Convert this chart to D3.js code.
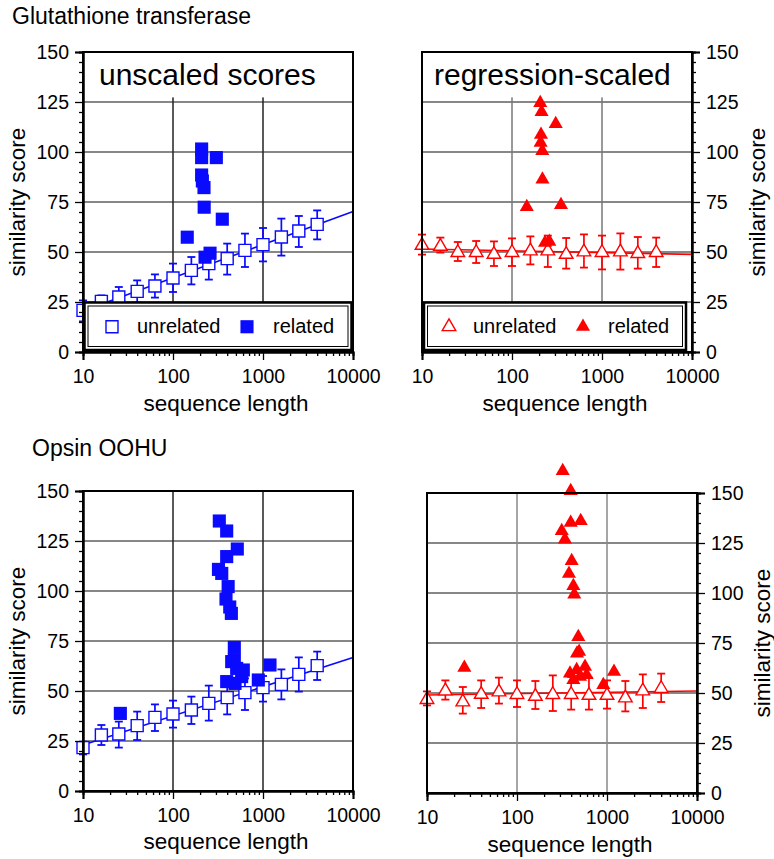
<!DOCTYPE html>
<html>
<head>
<meta charset="utf-8">
<script src="https://cdn.jsdelivr.net/npm/d3@7"></script>
<style>
  body { margin: 0; background: #fff; }
  svg { display: block; font-family: "Liberation Sans", Arial, sans-serif; }
</style>
</head>
<body>
<svg id="chart" width="774" height="859"></svg>
<script>
// x of the unrelated (binned) series, shared by all four panels
var lengthBins = [10, 16, 25, 40, 63, 100, 160, 250, 400, 630, 1000, 1600, 2500, 4000];
var fitEnds = [10, 10000];

// Glutathione transferase - unscaled
var gstRawMean = [20.8, 25.3, 27.5, 30.3, 33, 37, 40.8, 44.2, 46.7, 50.8, 53.7, 57.5, 60.5, 63.8];
var gstRawLow  = [15.3, 22.5, 23, 24.7, 27.2, 30, 33.8, 36.2, 38.7, 42.5, 45.3, 48.2, 52.5, 56.3];
var gstRawHigh = [25.8, 28.3, 32.5, 35.8, 38.8, 44.2, 47.5, 52, 54.2, 59.2, 62, 66.7, 68, 70.8];
var gstRawFit  = [20.5, 70.3];
var gstRawRelLen   = [208, 208, 303, 208, 212, 221, 222, 353, 144, 258, 227];
var gstRawRelScore = [101.5, 97.2, 97.2, 88.5, 85.5, 82.2, 72.4, 66.4, 57.4, 49.4, 47.4];

// Glutathione transferase - regression-scaled
var gstRegMean = [53.3, 52.8, 49.7, 49.7, 48.8, 49.7, 50.5, 50.5, 48.8, 50, 49.7, 50, 49.2, 49.7];
var gstRegLow  = [48.7, 49.7, 45.5, 44.5, 43, 43, 43.8, 42.5, 41.7, 42.2, 41.3, 41.2, 41.7, 42.5];
var gstRegHigh = [58.7, 57.2, 55, 55.5, 55.3, 56.8, 57.8, 58.2, 57, 58.8, 58.2, 59.3, 57.5, 57.2];
var gstRegFit  = [51.5, 48.8];
var gstRegRelLen   = [206, 213, 306, 210, 208, 217, 218, 146, 350, 233, 260];
var gstRegRelScore = [124.5, 120, 114, 108.7, 104.7, 100.5, 86.3, 72.5, 73.5, 54.7, 55.2];

// Opsin OOHU - unscaled
var opsRawMean = [21.7, 28, 28.5, 32.7, 36.8, 38.5, 40.5, 43.8, 46.7, 49.2, 51.7, 53.3, 58.3, 62.7];
var opsRawLow  = [18.3, 23, 21.7, 25.5, 30, 31.7, 33.5, 35.2, 38.3, 40.5, 44.7, 45.8, 49.7, 55.5];
var opsRawHigh = [24.7, 33, 34.7, 39.7, 43.3, 45.2, 47.2, 52.7, 54, 56.3, 57.5, 60.8, 66.8, 69.7];
var opsRawFit  = [23, 66.7];
var opsRawRelLen   = [327, 395, 518, 395, 320, 348, 410, 388, 427, 445,
                      480, 480, 449, 510, 604, 579, 395, 489, 887, 1196, 26];
var opsRawRelScore = [135, 130, 121, 117.2, 110.8, 108.8, 102.2, 96, 92, 88.8,
                      71.8, 65.5, 64.7, 61.3, 60.5, 57.2, 54.7, 53.8, 55.5, 63, 38.8];

// Opsin OOHU - regression-scaled
var opsRegMean = [46.7, 51, 45.5, 49.3, 50.5, 49.2, 48.3, 49.2, 49.2, 48.8, 48.8, 47.5, 51, 52.2];
var opsRegLow  = [43.8, 46.7, 39.7, 42.5, 44.7, 43, 42, 41, 41.7, 41.7, 42.2, 40.8, 42.5, 45.5];
var opsRegHigh = [50.8, 56.3, 53, 56.3, 57.7, 56.3, 56, 58.8, 58, 57.7, 56.3, 56, 59.3, 59.7];
var opsRegFit  = [49, 51];
var opsRegRelLen   = [322, 395, 510, 395, 314, 341, 405, 378, 423, 433,
                      480, 464, 490, 570, 388, 460, 501, 594, 423, 910, 1196, 26];
var opsRegRelScore = [161, 151, 136, 135.2, 131, 126.8, 116, 109.7, 103.5, 99.3,
                      78, 69.8, 70.7, 63.2, 59.8, 61.5, 58.2, 59, 56.5, 54, 60.7, 62.7];

var yMajor = [0, 25, 50, 75, 100, 125, 150];
var yMinor = d3.range(5, 150, 5).filter(function(v) { return v % 25 !== 0; });
var xMajor = [10, 100, 1000, 10000];
var xMinor = [];
[10, 100, 1000].forEach(function(d) {
    for (var k = 2; k <= 9; k++) xMinor.push(d * k);
});

var svg = d3.select("#chart");

var BLUE = "#0a0aff", RED = "#ff0000";

svg.append("text").attr("x", 12).attr("y", 24)
    .attr("font-size", 23).text("Glutathione transferase");
svg.append("text").attr("x", 32).attr("y", 456)
    .attr("font-size", 23).text("Opsin OOHU");

function drawPanel(p) {
    var x = d3.scaleLog().domain([10, 10000]).range([p.left, p.right]);
    var y = d3.scaleLinear().domain([0, 150]).range([p.bottom, p.top]);
    var g = svg.append("g");

    // grid
    g.selectAll(".hg").data([25, 50, 75, 100, 125]).enter().append("line")
        .attr("x1", p.left).attr("x2", p.right)
        .attr("y1", function(d) { return y(d); }).attr("y2", function(d) { return y(d); })
        .attr("stroke", "#111").attr("stroke-width", 1.2);
    g.selectAll(".vg").data([100, 1000]).enter().append("line")
        .attr("x1", function(d) { return x(d); }).attr("x2", function(d) { return x(d); })
        .attr("y1", p.top).attr("y2", p.bottom)
        .attr("stroke", p.vgrid).attr("stroke-width", 1.5);

    // panel caption box
    if (p.caption) {
        g.append("rect").attr("x", p.left + 1).attr("y", p.top + 1)
            .attr("width", p.right - p.left - 2).attr("height", y(127.3) - p.top - 1)
            .attr("fill", "#fff");
        g.append("text").attr("x", p.capX).attr("y", p.top + 33)
            .attr("font-size", 30).text(p.caption);
    }

    // regression line
    g.append("line")
        .attr("x1", x(fitEnds[0])).attr("y1", y(p.fit[0]))
        .attr("x2", x(fitEnds[1])).attr("y2", y(p.fit[1]))
        .attr("stroke", p.color).attr("stroke-width", 1.6);

    // error bars
    var eb = g.selectAll(".eb").data(lengthBins).enter().append("g");
    eb.append("line")
        .attr("x1", function(d) { return x(d); }).attr("x2", function(d) { return x(d); })
        .attr("y1", function(d, i) { return y(p.low[i]); })
        .attr("y2", function(d, i) { return y(p.high[i]); })
        .attr("stroke", p.color).attr("stroke-width", 1.7);
    [p.low, p.high].forEach(function(arr) {
        eb.append("line")
            .attr("x1", function(d) { return x(d) - 4; }).attr("x2", function(d) { return x(d) + 4; })
            .attr("y1", function(d, i) { return y(arr[i]); })
            .attr("y2", function(d, i) { return y(arr[i]); })
            .attr("stroke", p.color).attr("stroke-width", 1.8);
    });

    var openSym = d3.symbol().type(p.shape).size(p.shape === d3.symbolSquare ? 144 : 80);
    var fillSym = d3.symbol().type(p.shape).size(p.shape === d3.symbolSquare ? 172 : 86);

    // unrelated (open)
    g.selectAll(".un").data(lengthBins).enter().append("path")
        .attr("d", openSym)
        .attr("transform", function(d, i) { return "translate(" + x(d) + "," + y(p.mean[i]) + ")"; })
        .attr("fill", "#fff").attr("stroke", p.color).attr("stroke-width", 1.4);

    // related (filled)
    g.selectAll(".rel").data(p.relLen).enter().append("path")
        .attr("d", fillSym)
        .attr("transform", function(d, i) { return "translate(" + x(d) + "," + y(p.relScore[i]) + ")"; })
        .attr("fill", p.color);

    // legend
    if (p.legend) {
        var L = p.legend;
        g.append("rect").attr("x", L[0]).attr("y", L[1])
            .attr("width", L[2] - L[0]).attr("height", L[3] - L[1])
            .attr("fill", "#fff").attr("stroke", "#000").attr("stroke-width", 2.5);
        g.append("rect").attr("x", L[0] + 3.5).attr("y", L[1] + 3.5)
            .attr("width", L[2] - L[0] - 7).attr("height", L[3] - L[1] - 7)
            .attr("fill", "none").attr("stroke", "#000").attr("stroke-width", 1);
        var ly = (L[1] + L[3]) / 2;
        g.append("path").attr("d", openSym)
            .attr("transform", "translate(" + p.legX[0] + "," + (ly + 0.5) + ")")
            .attr("fill", "#fff").attr("stroke", p.color).attr("stroke-width", 1.4);
        g.append("text").attr("x", p.legX[1]).attr("y", ly + 7)
            .attr("font-size", 20).text("unrelated");
        g.append("path").attr("d", fillSym)
            .attr("transform", "translate(" + p.legX[2] + "," + (ly + 0.5) + ")")
            .attr("fill", p.color);
        g.append("text").attr("x", p.legX[3]).attr("y", ly + 7)
            .attr("font-size", 20).text("related");
    }

    // frame
    g.append("rect").attr("x", p.left).attr("y", p.top)
        .attr("width", p.right - p.left).attr("height", p.bottom - p.top)
        .attr("fill", "none").attr("stroke", "#000").attr("stroke-width", 2);

    // axes
    var onRight = p.side === "right";
    var yAxis = (onRight ? d3.axisRight(y) : d3.axisLeft(y))
        .tickValues(yMajor).tickSize(8).tickPadding(6);
    var yAxisMinor = (onRight ? d3.axisRight(y) : d3.axisLeft(y))
        .tickValues(yMinor).tickSize(4).tickFormat("");
    var yPos = onRight ? p.right : p.left;
    var ya = g.append("g").attr("transform", "translate(" + yPos + ",0)").call(yAxis);
    g.append("g").attr("transform", "translate(" + yPos + ",0)").call(yAxisMinor);

    var xAxis = d3.axisBottom(x).tickValues(xMajor).tickSize(8).tickPadding(9)
        .tickFormat(d3.format("d"));
    var xAxisMinor = d3.axisBottom(x).tickValues(xMinor).tickSize(4).tickFormat("");
    var xa = g.append("g").attr("transform", "translate(0," + p.bottom + ")").call(xAxis);
    g.append("g").attr("transform", "translate(0," + p.bottom + ")").call(xAxisMinor);

    g.selectAll(".domain").attr("stroke-width", 2);
    g.selectAll(".tick line").attr("stroke-width", 1.3);
    ya.selectAll("text").attr("font-size", 19.5).attr("font-family", null);
    xa.selectAll("text").attr("font-size", 19.5).attr("font-family", null);

    // axis titles
    g.append("text")
        .attr("x", (p.left + p.right) / 2 + 8).attr("y", p.bottom + p.xLabelDy)
        .attr("text-anchor", "middle").attr("font-size", 22.5)
        .text("sequence length");
    g.append("text")
        .attr("transform", "translate(" + p.yLabelX + "," + ((p.top + p.bottom) / 2) + ") rotate(-90)")
        .attr("text-anchor", "middle").attr("font-size", 22.5)
        .text("similarity score");
}

var panels = [
    { left: 83, right: 353, top: 52, bottom: 352, side: "left", color: BLUE,
      shape: d3.symbolSquare, vgrid: "#222",
      mean: gstRawMean, low: gstRawLow, high: gstRawHigh, fit: gstRawFit,
      relLen: gstRawRelLen, relScore: gstRawRelScore,
      caption: "unscaled scores", capX: 99,
      legend: [84.5, 302.5, 351.5, 350], legX: [112, 137, 247, 273],
      xLabelDy: 59, yLabelX: 25 },
    { left: 422, right: 692, top: 52, bottom: 352, side: "right", color: RED,
      shape: d3.symbolTriangle, vgrid: "#777",
      mean: gstRegMean, low: gstRegLow, high: gstRegHigh, fit: gstRegFit,
      relLen: gstRegRelLen, relScore: gstRegRelScore,
      caption: "regression-scaled", capX: 434,
      legend: [424, 302.5, 686, 350], legX: [449, 473, 583, 608],
      xLabelDy: 59, yLabelX: 765 },
    { left: 83, right: 353, top: 491, bottom: 791, side: "left", color: BLUE,
      shape: d3.symbolSquare, vgrid: "#222",
      mean: opsRawMean, low: opsRawLow, high: opsRawHigh, fit: opsRawFit,
      relLen: opsRawRelLen, relScore: opsRawRelScore,
      xLabelDy: 58, yLabelX: 25 },
    { left: 427, right: 697, top: 493, bottom: 793, side: "right", color: RED,
      shape: d3.symbolTriangle, vgrid: "#888",
      mean: opsRegMean, low: opsRegLow, high: opsRegHigh, fit: opsRegFit,
      relLen: opsRegRelLen, relScore: opsRegRelScore,
      xLabelDy: 59, yLabelX: 770 }
];

panels.forEach(drawPanel);
</script>
</body>
</html>
